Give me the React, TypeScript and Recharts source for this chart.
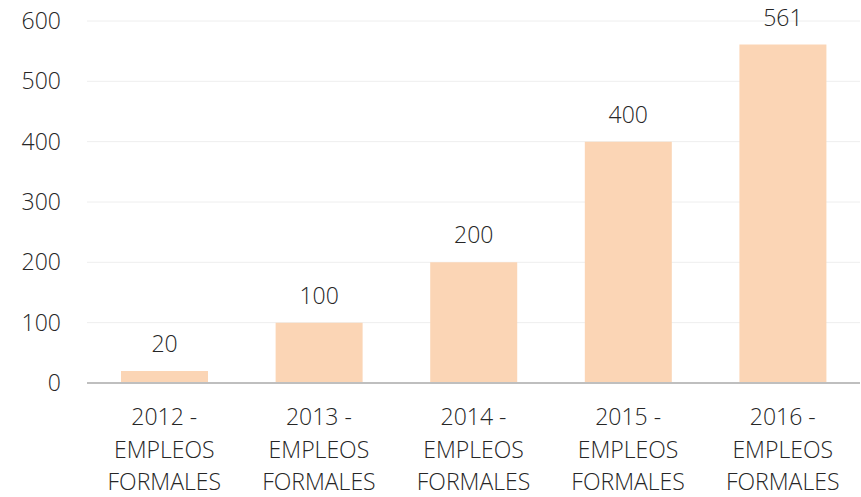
import { BarChart, Bar, XAxis, YAxis, CartesianGrid, LabelList } from "recharts";

const years = ["2012", "2013", "2014", "2015", "2016"];
const empleos = [20, 100, 200, 400, 561];
const yTicks = [0, 100, 200, 300, 400, 500, 600];

const chartData = years.map((y, i) => ({ name: `${y} - EMPLEOS FORMALES`, year: y, value: empleos[i] }));

const FONT = "'Open Sans', sans-serif";
const TEXT = "#262626";
const SIZE = 23;

function XTick(props: any) {
  const { x, y, payload } = props;
  const year = chartData[payload.index]?.year ?? "";
  const lines = [`${year} -`, "EMPLEOS", "FORMALES"];
  return (
    <g transform={`translate(${x},${y})`}>
      {lines.map((l, i) => (
        <text
          key={i}
          x={0}
          y={34 + i * 32.5}
          textAnchor="middle"
          fill={TEXT}
          fontSize={SIZE}
          fontWeight={300}
          fontFamily={FONT}
        >
          {l}
        </text>
      ))}
    </g>
  );
}

export default function App() {
  return (
    <div style={{ position: "absolute", left: 0, top: 0, width: 861, height: 497, background: "#fff" }}>
      <BarChart
        width={861}
        height={497}
        data={chartData}
        margin={{ top: 21, right: 1, bottom: 0, left: 0 }}
        barCategoryGap="22%"
      >
        <CartesianGrid vertical={false} stroke="#EEEEEE" strokeWidth={1} />
        <XAxis
          dataKey="name"
          height={114}
          tickLine={false}
          axisLine={{ stroke: "#BFBFBF", strokeWidth: 2 }}
          tick={<XTick />}
          interval={0}
        />
        <YAxis
          width={87}
          domain={[0, 600]}
          ticks={yTicks}
          axisLine={false}
          tickLine={false}
          tickMargin={20}
          tick={{ fill: TEXT, fontSize: SIZE, fontWeight: 300, fontFamily: FONT }}
        />
        <Bar dataKey="value" fill="#FBD5B5" isAnimationActive={false}>
          <LabelList
            dataKey="value"
            position="top"
            offset={19}
            fill={TEXT}
            fontSize={SIZE}
            fontWeight={300}
            fontFamily={FONT}
          />
        </Bar>
      </BarChart>
    </div>
  );
}
